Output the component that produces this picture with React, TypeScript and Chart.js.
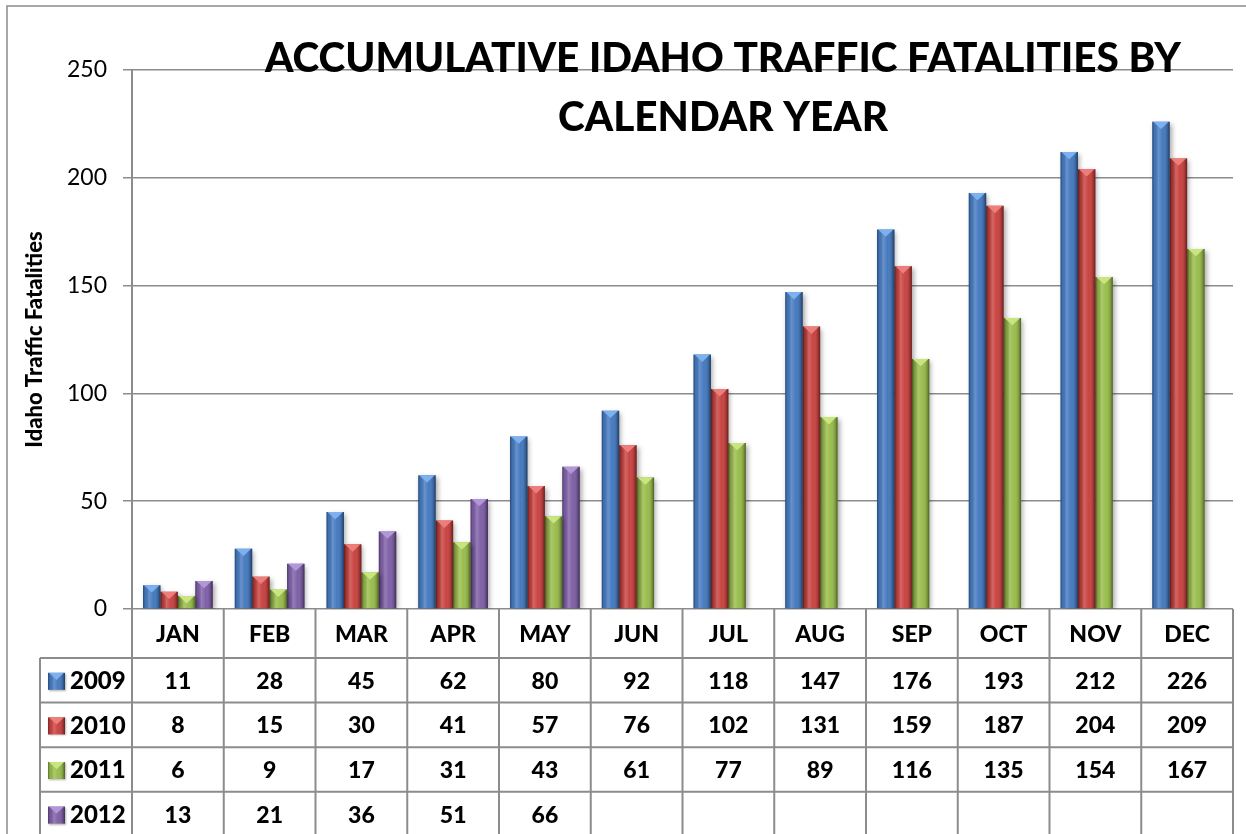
import React, { useEffect, useRef } from "react";
import { Chart, registerables } from "chart.js";

Chart.register(...registerables);

const months = ["JAN", "FEB", "MAR", "APR", "MAY", "JUN", "JUL", "AUG", "SEP", "OCT", "NOV", "DEC"];
const seriesNames = ["2009", "2010", "2011", "2012"];
const values2009 = [11, 28, 45, 62, 80, 92, 118, 147, 176, 193, 212, 226];
const values2010 = [8, 15, 30, 41, 57, 76, 102, 131, 159, 187, 204, 209];
const values2011 = [6, 9, 17, 31, 43, 61, 77, 89, 116, 135, 154, 167];
const values2012 = [13, 21, 36, 51, 66, null, null, null, null, null, null, null];
const seriesColors = ["#4378BE", "#C8413E", "#98BC4A", "#7D5EA6"];
const seriesLight = ["#7DB0EE", "#EE7E7B", "#C9E57F", "#B296D8"];
const titleLines = ["ACCUMULATIVE IDAHO TRAFFIC FATALITIES BY", "CALENDAR YEAR"];
const yAxisTitle = "Idaho Traffic Fatalities";
const yMax = 250;
const yStep = 50;

const allValues = [values2009, values2010, values2011, values2012];

const FONT = "Lato, 'Open Sans', sans-serif";
const GRID = "#8c8c8c";

function drawBevel(ctx: CanvasRenderingContext2D, left: number, top: number, w: number, h: number, idx: number) {
  ctx.save();
  const g = ctx.createLinearGradient(left, 0, left + w, 0);
  g.addColorStop(0, "rgba(0,0,0,0.4)");
  g.addColorStop(0.12, "rgba(0,0,0,0.05)");
  g.addColorStop(0.35, "rgba(255,255,255,0.2)");
  g.addColorStop(0.6, "rgba(255,255,255,0.02)");
  g.addColorStop(0.88, "rgba(0,0,0,0.2)");
  g.addColorStop(1, "rgba(0,0,0,0.5)");
  ctx.fillStyle = g;
  ctx.fillRect(left, top, w, h);
  const th = Math.min(w * 0.42, h);
  ctx.beginPath();
  ctx.moveTo(left + 1, top);
  ctx.lineTo(left + w - 1, top);
  ctx.lineTo(left + w / 2, top + th);
  ctx.closePath();
  ctx.fillStyle = seriesLight[idx];
  ctx.fill();
  ctx.restore();
}

const decorPlugin = {
  id: "decor",
  beforeDraw(chart: any) {
    const ctx = chart.ctx as CanvasRenderingContext2D;
    ctx.save();
    ctx.fillStyle = "#ffffff";
    ctx.fillRect(0, 0, chart.width, chart.height);
    ctx.strokeStyle = GRID;
    ctx.lineWidth = 1.5;
    ctx.strokeRect(7, 6, chart.width + 20, chart.height + 20);
    ctx.restore();
  },
  beforeDatasetsDraw(chart: any) {
    const ctx = chart.ctx as CanvasRenderingContext2D;
    ctx.save();
    ctx.shadowColor = "rgba(0,0,0,0.35)";
    ctx.shadowBlur = 5;
    ctx.shadowOffsetX = 2;
    ctx.shadowOffsetY = 2;
  },
  afterDatasetsDraw(chart: any) {
    const ctx = chart.ctx as CanvasRenderingContext2D;
    ctx.restore();
    chart.data.datasets.forEach((ds: any, di: number) => {
      const meta = chart.getDatasetMeta(di);
      meta.data.forEach((bar: any, i: number) => {
        if (ds.data[i] == null) return;
        const p = bar.getProps(["x", "y", "base", "width"], true);
        const left = p.x - p.width / 2;
        drawBevel(ctx, left, p.y, p.width, p.base - p.y, di);
      });
    });
  },
  afterDraw(chart: any) {
    const ctx = chart.ctx as CanvasRenderingContext2D;
    const area = chart.chartArea;
    const colW = (area.right - area.left) / months.length;
    const headerH = 49;
    const rowH = 44.6;
    const tableLeft = 40;
    const bottom = chart.height + 5;
    ctx.save();
    ctx.strokeStyle = GRID;
    ctx.lineWidth = 2;
    ctx.beginPath();
    for (let i = 0; i <= months.length; i++) {
      const x = area.left + i * colW;
      ctx.moveTo(x, area.bottom);
      ctx.lineTo(x, bottom);
    }
    ctx.moveTo(tableLeft, area.bottom + headerH);
    ctx.lineTo(tableLeft, bottom);
    for (let r = 0; r < seriesNames.length; r++) {
      const y = area.bottom + headerH + r * rowH;
      ctx.moveTo(tableLeft, y);
      ctx.lineTo(area.right, y);
    }
    ctx.stroke();

    const cellFont = `900 23px ${FONT}`;
    ctx.fillStyle = "#000";
    ctx.textAlign = "center";
    ctx.textBaseline = "middle";
    ctx.font = cellFont;
    months.forEach((m, i) => {
      ctx.fillText(m, area.left + (i + 0.5) * colW, area.bottom + headerH / 2 + 1);
    });
    allValues.forEach((vals, r) => {
      const cy = area.bottom + headerH + (r + 0.5) * rowH + 1;
      ctx.font = cellFont;
      vals.forEach((v, i) => {
        if (v == null) return;
        ctx.fillText(String(v), area.left + (i + 0.5) * colW, cy);
      });
      const ks = 17;
      ctx.save();
      ctx.shadowColor = "rgba(0,0,0,0.3)";
      ctx.shadowBlur = 2;
      ctx.shadowOffsetX = 1;
      ctx.shadowOffsetY = 1;
      ctx.fillStyle = seriesColors[r];
      ctx.fillRect(48, cy - ks / 2, ks, ks);
      ctx.restore();
      drawBevel(ctx, 48, cy - ks / 2, ks, ks, r);
      ctx.textAlign = "left";
      ctx.fillStyle = "#000";
      ctx.font = `900 24px ${FONT}`;
      ctx.fillText(seriesNames[r], 70, cy);
      ctx.textAlign = "center";
    });

    ctx.font = `900 41px ${FONT}`;
    ctx.textBaseline = "alphabetic";
    const cx = chart.width / 2 + 100;
    const targets = [916, 330];
    const baselines = [area.top + 2, area.top + 61];
    titleLines.forEach((t, i) => {
      const w = ctx.measureText(t).width;
      const sx = targets[i] / w;
      ctx.save();
      ctx.translate(cx, baselines[i]);
      ctx.scale(sx, 1);
      ctx.fillText(t, 0, 0);
      ctx.restore();
    });
    ctx.restore();
  },
};

export default function App() {
  const ref = useRef<HTMLCanvasElement | null>(null);
  useEffect(() => {
    if (!ref.current) return;
    const chart = new Chart(ref.current, {
      type: "bar",
      data: {
        labels: months,
        datasets: allValues.map((vals, i) => ({
          label: seriesNames[i],
          data: vals,
          backgroundColor: seriesColors[i],
          borderWidth: 0,
          categoryPercentage: 0.76,
          barPercentage: 1.0,
        })),
      },
      options: {
        animation: false,
        responsive: false,
        devicePixelRatio: 1,
        layout: { padding: { left: 0, top: 70, right: 13, bottom: 225 } },
        plugins: {
          legend: { display: false },
          tooltip: { enabled: false },
          title: { display: false },
        },
        scales: {
          x: { display: false },
          y: {
            min: 0,
            max: yMax,
            ticks: {
              stepSize: yStep,
              padding: 16,
              color: "#000",
              font: { family: FONT, size: 23 },
            },
            grid: { color: GRID, lineWidth: 1.5, tickLength: 9 },
            border: { color: GRID, width: 2 },
            title: {
              display: true,
              text: yAxisTitle,
              color: "#000",
              font: { family: FONT, size: 22, weight: "900" },
              padding: { top: 22, bottom: 0 },
            },
            afterFit: (s: any) => {
              s.width = 132;
            },
          },
        },
      },
      plugins: [decorPlugin],
    });
    return () => chart.destroy();
  }, []);
  return (
    <div style={{ position: "absolute", left: 0, top: 0, width: 1246, height: 834, background: "#fff" }}>
      <canvas ref={ref} width={1246} height={834} />
    </div>
  );
}
